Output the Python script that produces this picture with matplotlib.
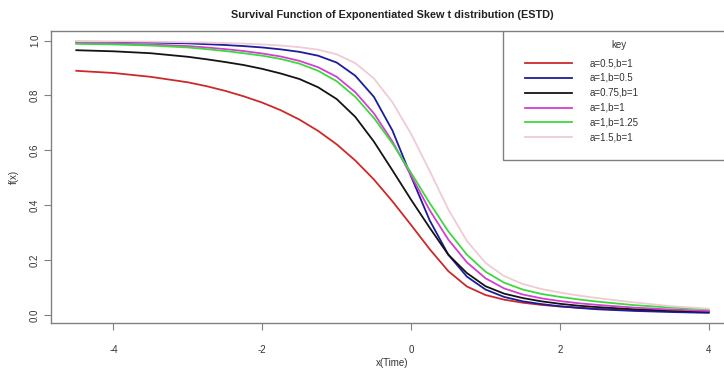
import numpy as np
import matplotlib
matplotlib.use('Agg')
import matplotlib.pyplot as plt
from matplotlib.patches import Rectangle

# values
x = [-4.5, -4, -3.5, -3, -2.75, -2.5, -2.25, -2, -1.75, -1.5, -1.25, -1, -0.75, -0.5, -0.25,
     0, 0.25, 0.5, 0.75, 1, 1.25, 1.5, 1.75, 2, 2.25, 2.5, 3, 3.5, 4]

s_a05_b1 = [0.890, 0.882, 0.868, 0.848, 0.834, 0.817, 0.797, 0.774, 0.746, 0.712, 0.671, 0.622, 0.563, 0.494, 0.414,
            0.328, 0.240, 0.160, 0.104, 0.073, 0.056, 0.045, 0.037, 0.031, 0.027, 0.023, 0.018, 0.014, 0.012]
s_a1_b05 = [0.996, 0.995, 0.993, 0.990, 0.987, 0.984, 0.980, 0.975, 0.968, 0.959, 0.945, 0.920, 0.872, 0.795, 0.672,
            0.505, 0.345, 0.220, 0.140, 0.093, 0.066, 0.050, 0.040, 0.032, 0.026, 0.021, 0.015, 0.011, 0.008]
s_a075_b1 = [0.965, 0.961, 0.954, 0.941, 0.932, 0.922, 0.911, 0.897, 0.880, 0.860, 0.830, 0.787, 0.722, 0.632, 0.527,
             0.420, 0.318, 0.220, 0.153, 0.105, 0.078, 0.062, 0.050, 0.041, 0.034, 0.029, 0.021, 0.016, 0.012]
s_a1_b1 = [0.991, 0.989, 0.986, 0.980, 0.975, 0.969, 0.962, 0.953, 0.942, 0.926, 0.903, 0.868, 0.812, 0.735, 0.632,
           0.508, 0.382, 0.275, 0.192, 0.134, 0.097, 0.075, 0.061, 0.051, 0.043, 0.037, 0.027, 0.020, 0.015]
s_a1_b125 = [0.988, 0.986, 0.982, 0.975, 0.969, 0.962, 0.954, 0.945, 0.933, 0.916, 0.890, 0.852, 0.795, 0.718, 0.625,
             0.518, 0.408, 0.305, 0.220, 0.158, 0.118, 0.093, 0.077, 0.066, 0.057, 0.049, 0.036, 0.027, 0.021]
s_a15_b1 = [0.998, 0.997, 0.996, 0.994, 0.993, 0.991, 0.989, 0.986, 0.982, 0.976, 0.967, 0.950, 0.918, 0.862, 0.775,
            0.660, 0.525, 0.385, 0.270, 0.190, 0.142, 0.113, 0.095, 0.082, 0.071, 0.062, 0.046, 0.032, 0.023]

series = [s_a05_b1, s_a1_b05, s_a075_b1, s_a1_b1, s_a1_b125, s_a15_b1]
labels = ['a=0.5,b=1', 'a=1,b=0.5', 'a=0.75,b=1', 'a=1,b=1', 'a=1,b=1.25', 'a=1.5,b=1']
colors = ['#cc2a2a', '#1c1c9c', '#141414', '#d23fd2', '#3ed83e', '#efcbd3']

xticks = [-4, -2, 0, 2, 4]
yticks = [0.0, 0.2, 0.4, 0.6, 0.8, 1.0]

plt.rcParams['font.family'] = ['Liberation Sans Narrow', 'Liberation Sans', 'DejaVu Sans']
gray = '#808080'
txt = '#333333'

fig = plt.figure(figsize=(7.24, 3.74), dpi=100)
# plot region runs past the right edge, the reference is cropped there
ax = fig.add_axes([51/724., 51/374., 683/724., 292/374.])

for s, c in zip(series, colors):
    ax.plot(x, s, color=c, lw=1.3, solid_joinstyle='round')

ax.set_xlim(-4.84, 4.34)
ax.set_ylim(-0.029, 1.035)
ax.set_xticks(xticks)
ax.set_xticklabels([str(t) for t in xticks])
ax.set_yticks(yticks)
ax.set_yticklabels(['%.1f' % t for t in yticks], rotation=90, va='center')
ax.tick_params(direction='out', length=5, width=0.8, color=gray, labelsize=7, labelcolor=txt)
ax.tick_params(axis='x', pad=11)
ax.tick_params(axis='y', pad=3)
for sp in ax.spines.values():
    sp.set_color(gray)
    sp.set_linewidth(1)

ax.set_xlabel('x(Time)', fontsize=7, color=txt, labelpad=2)
ax.set_ylabel('f(x)', fontsize=7, color=txt, labelpad=8)
ax.set_title('Survival Function of Exponentiated Skew t distribution (ESTD)',
             fontsize=7.8, fontweight='bold', color='#222222', pad=9)

# legend box drawn by hand to sit like R's legend("topright")
ax.add_patch(Rectangle((0.662, 0.558), 0.338, 0.442, transform=ax.transAxes,
                       facecolor='white', edgecolor=gray, lw=1, zorder=3))
ax.text(0.831, 0.952, 'key', transform=ax.transAxes, ha='center', va='center',
        fontsize=7, color=txt, zorder=4)
for i, (lab, c) in enumerate(zip(labels, colors)):
    yy = 0.890 - i*0.0507
    ax.plot([0.694, 0.763], [yy, yy], transform=ax.transAxes, color=c, lw=1.3, zorder=4)
    ax.text(0.789, yy, lab, transform=ax.transAxes, va='center', fontsize=7, color=txt, zorder=4)

fig.savefig('out.png', dpi=100)
